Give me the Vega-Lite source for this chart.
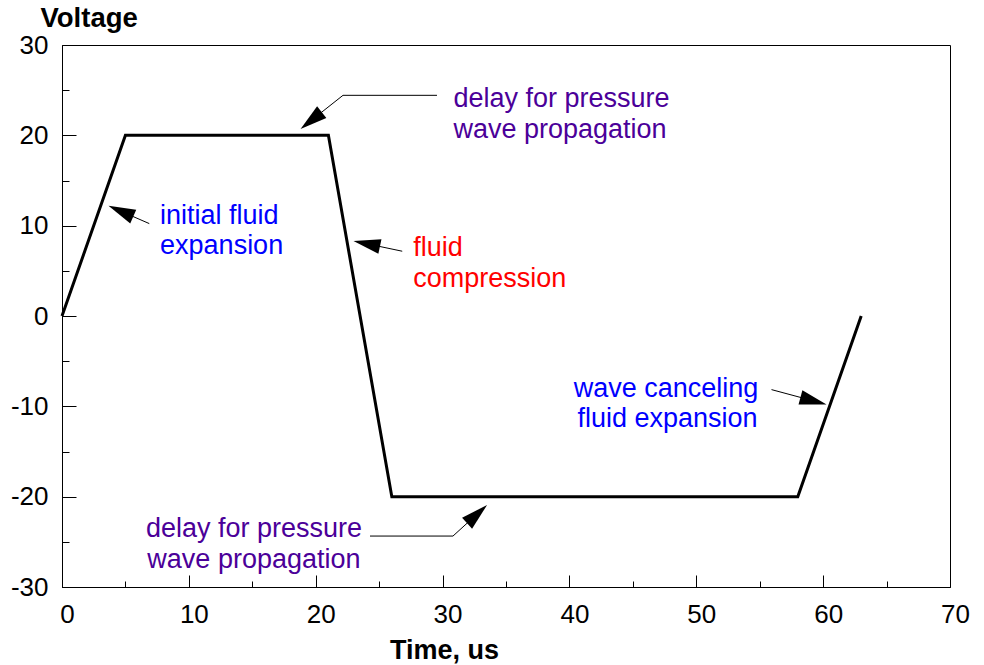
{
  "$schema": "https://vega.github.io/schema/vega-lite/v6.json",
  "width": 888,
  "height": 542,
  "autosize": {"type": "none"},
  "padding": {"left": 62, "top": 45, "right": 34, "bottom": 78},
  "background": "white",
  "config": {
    "view": {"stroke": "black", "strokeWidth": 1},
    "font": "Liberation Sans"
  },
  "datasets": {
    "curve": [
      {"t": 0, "v": 0},
      {"t": 5, "v": 20},
      {"t": 21, "v": 20},
      {"t": 26, "v": -20},
      {"t": 58, "v": -20},
      {"t": 63, "v": 0}
    ],
    "leaders": [
      {"id": "a1", "o": 1, "t": 29.56, "v": 24.43},
      {"id": "a1", "o": 2, "t": 22.15, "v": 24.43},
      {"id": "a1", "o": 3, "t": 19.64, "v": 21.64},
      {"id": "a2", "o": 1, "t": 6.88, "v": 10.23},
      {"id": "a2", "o": 2, "t": 4.64, "v": 11.6},
      {"id": "a3", "o": 1, "t": 26.82, "v": 7.17},
      {"id": "a3", "o": 2, "t": 24.02, "v": 8.0},
      {"id": "a4", "o": 1, "t": 24.28, "v": -24.36},
      {"id": "a4", "o": 2, "t": 30.82, "v": -24.36},
      {"id": "a4", "o": 3, "t": 32.72, "v": -21.93},
      {"id": "a5", "o": 1, "t": 55.93, "v": -8.15},
      {"id": "a5", "o": 2, "t": 59.24, "v": -9.4}
    ],
    "heads": [
      {"id": "a1", "t": 19.64, "v": 21.64, "dir": 231.6},
      {"id": "a2", "t": 4.64, "v": 11.6, "dir": 293.6},
      {"id": "a3", "t": 24.02, "v": 8.0, "dir": 282},
      {"id": "a4", "t": 32.72, "v": -21.93, "dir": 47.7},
      {"id": "a5", "t": 59.24, "v": -9.4, "dir": 105.1}
    ],
    "centerText": [
      {"t": 39.37, "v": 23.14, "label": "delay for pressure", "kind": "delay"},
      {"t": 39.26, "v": 19.65, "label": "wave propagation", "kind": "delay"},
      {"t": 15.13, "v": -24.47, "label": "delay for pressure", "kind": "delay"},
      {"t": 15.13, "v": -27.85, "label": "wave propagation", "kind": "delay"},
      {"t": 47.61, "v": -8.97, "label": "wave canceling", "kind": "expansion"},
      {"t": 47.73, "v": -12.3, "label": "fluid expansion", "kind": "expansion"}
    ],
    "leftText": [
      {"t": 7.73, "v": 10.15, "label": "initial fluid", "kind": "expansion"},
      {"t": 7.73, "v": 6.9, "label": "expansion", "kind": "expansion"},
      {"t": 27.69, "v": 6.6, "label": "fluid", "kind": "compression"},
      {"t": 27.69, "v": 3.25, "label": "compression", "kind": "compression"}
    ]
  },
  "encoding": {
    "x": {
      "field": "t",
      "type": "quantitative",
      "scale": {"domain": [0, 70], "nice": false, "zero": false},
      "axis": {
        "title": "Time, us",
        "titleFont": "Liberation Sans",
        "titleFontSize": 27,
        "titleFontWeight": "bold",
        "titleColor": "black",
        "titleX": 382,
        "titleY": 71,
        "titleAlign": "center",
        "titleBaseline": "alphabetic",
        "values": [0, 5, 10, 15, 20, 25, 30, 35, 40, 45, 50, 55, 60, 65, 70],
        "labelExpr": "datum.value % 10 === 0 ? '' + datum.value : ''",
        "labelFont": "Liberation Sans",
        "labelFontSize": 26,
        "labelColor": "black",
        "labelFlush": false,
        "labelOffset": 5,
        "labelPadding": 26,
        "tickSize": {"condition": {"test": "datum.value % 10 !== 0", "value": -6}, "value": -12},
        "tickColor": "black",
        "domainColor": "black",
        "grid": false
      }
    },
    "y": {
      "field": "v",
      "type": "quantitative",
      "scale": {"domain": [-30, 30], "nice": false, "zero": false},
      "axis": {
        "title": "Voltage",
        "titleFont": "Liberation Sans",
        "titleFontSize": 27.5,
        "titleFontWeight": "bold",
        "titleColor": "black",
        "titleAngle": 0,
        "titleX": -22,
        "titleY": -18.5,
        "titleAlign": "left",
        "titleBaseline": "alphabetic",
        "values": [-30, -25, -20, -15, -10, -5, 0, 5, 10, 15, 20, 25, 30],
        "labelExpr": "datum.value % 10 === 0 ? '' + datum.value : ''",
        "labelFont": "Liberation Sans",
        "labelFontSize": 26,
        "labelColor": "black",
        "labelFlush": false,
        "labelPadding": 28,
        "tickSize": {"condition": {"test": "datum.value % 10 !== 0", "value": -7}, "value": -14},
        "tickColor": "black",
        "domainColor": "black",
        "grid": false
      }
    }
  },
  "layer": [
    {
      "data": {"values": [{"z": 0}]},
      "mark": {"type": "rule", "color": "black", "strokeWidth": 1},
      "encoding": {"x": null, "y": {"datum": 0, "type": "quantitative"}}
    },
    {
      "data": {"name": "curve"},
      "mark": {"type": "line", "color": "black", "strokeWidth": 3, "strokeJoin": "miter"}
    },
    {
      "data": {"name": "leaders"},
      "mark": {"type": "line", "color": "black", "strokeWidth": 1},
      "encoding": {
        "detail": {"field": "id"},
        "order": {"field": "o", "type": "quantitative"}
      }
    },
    {
      "data": {"name": "heads"},
      "mark": {
        "type": "point",
        "shape": "M0,-1L0.55,1L-0.55,1Z",
        "filled": true,
        "color": "black",
        "opacity": 1,
        "size": 729
      },
      "encoding": {"angle": {"field": "dir", "type": "quantitative", "scale": null}}
    },
    {
      "data": {"name": "centerText"},
      "mark": {"type": "text", "align": "center", "baseline": "alphabetic", "font": "Liberation Sans", "fontSize": 27},
      "encoding": {
        "text": {"field": "label"},
        "color": {
          "field": "kind",
          "type": "nominal",
          "scale": {"domain": ["delay", "expansion", "compression"], "range": ["#4B0099", "#0000FF", "#FF0000"]},
          "legend": null
        }
      }
    },
    {
      "data": {"name": "leftText"},
      "mark": {"type": "text", "align": "left", "baseline": "alphabetic", "font": "Liberation Sans", "fontSize": 27},
      "encoding": {
        "text": {"field": "label"},
        "color": {
          "field": "kind",
          "type": "nominal",
          "scale": {"domain": ["delay", "expansion", "compression"], "range": ["#4B0099", "#0000FF", "#FF0000"]},
          "legend": null
        }
      }
    }
  ]
}
